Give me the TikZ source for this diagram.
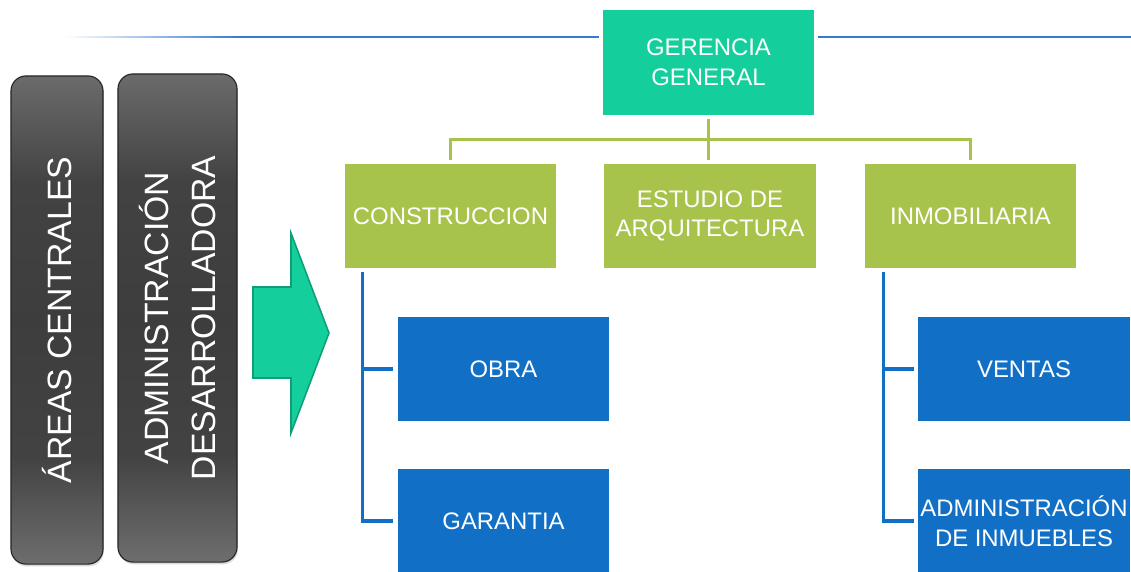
\documentclass[tikz,border=0pt]{standalone}
\usepackage{fontspec}
\setmainfont{Liberation Sans}
\usetikzlibrary{calc,shadows}
\definecolor{ggteal}{RGB}{20,207,155}
\definecolor{arrowedge}{RGB}{16,158,120}
\definecolor{areagreen}{RGB}{168,195,75}
\definecolor{unitblue}{RGB}{17,112,198}
\definecolor{lineblue}{RGB}{52,122,208}
\pgfdeclareverticalshading{sidebar}{100bp}{rgb(0bp)=(0.43,0.43,0.43); rgb(25bp)=(0.43,0.43,0.43); rgb(36bp)=(0.26,0.26,0.26); rgb(50bp)=(0.24,0.24,0.24); rgb(64bp)=(0.26,0.26,0.26); rgb(75bp)=(0.42,0.42,0.42); rgb(100bp)=(0.42,0.42,0.42)}

\begin{document}
\begin{tikzpicture}[x=0.025cm,y=-0.025cm,
		unit/.style={minimum width=5.28cm,minimum height=2.6cm,inner sep=0pt,align=center,text=white,font=\fontsize{17}{21}\selectfont},
		sidebox/.style={rounded corners=0.375cm,draw=black!85,line width=0.8pt,shading=sidebar,minimum height=12.2cm,drop shadow={shadow xshift=0.6pt,shadow yshift=-1.6pt,opacity=0.3}},
		sidetext/.style={rotate=90,align=center,text=white,inner sep=0pt,font=\fontsize{24}{34}\selectfont},
		greenline/.style={draw=areagreen,line width=2.3pt},
		blueline/.style={draw=unitblue,line width=2.3pt},
		topline/.style={draw=lineblue,line width=1.5pt}]
	\useasboundingbox (0,0) rectangle (1131,572);
	\node[unit,fill=ggteal] (gg) at (708.5,62.5) {GERENCIA\\GENERAL};
	\node[unit,fill=areagreen] (cons) at (450.5,216) {CONSTRUCCION};
	\node[unit,fill=areagreen] (est) at (710,216) {ESTUDIO DE\\ARQUITECTURA};
	\node[unit,fill=areagreen] (inm) at (970.5,216) {INMOBILIARIA};
	\node[unit,fill=unitblue] (obra) at (503.5,369) {OBRA};
	\node[unit,fill=unitblue] (gar) at (503.5,521) {GARANTIA};
	\node[unit,fill=unitblue] (vent) at (1024,369) {VENTAS};
	\node[unit,fill=unitblue] (adm) at (1024,521) {ADMINISTRACIÓN\\DE INMUEBLES};
	\node[sidebox,minimum width=2.3cm] (areas) at (57,320) {};
	\node[sidetext] at (areas) {ÁREAS CENTRALES};
	\node[sidebox,minimum width=2.975cm] (desa) at (177.5,318) {};
	\node[sidetext] at (desa) {ADMINISTRACIÓN\\DESARROLLADORA};
	\draw[arrowedge,fill=ggteal,line width=1.1pt] (253,287)--(291,287)--(291,233)--(329,333)--(291,433)--(291,378)--(253,378)--cycle;
	\coordinate (tl) at (240,37);
	\shade[left color=white,right color=lineblue] (65,36.2) rectangle (tl|-0,37.8);
	\draw[topline,shorten >=0.09cm] (tl) -- (tl-|gg.west);
	\draw[topline,shorten <=0.1cm] (tl-|gg.east) -- (1131,37);
	\coordinate (bus) at ($(gg.south)!0.5!(est.north)$);
	\draw[greenline,shorten <=0.1cm,shorten >=0.1cm] (gg.south) -- (gg.south|-est.north);
	\draw[greenline,shorten <=0.1cm,shorten >=0.1cm] (cons.north) |- (bus) -| (inm.north);
	\coordinate (cspine) at ($(cons.south west)+(18,0)$);
	\coordinate (ispine) at ($(inm.south west)+(19,0)$);
	\draw[blueline,shorten <=0.1cm,shorten >=0.125cm] (cspine) |- (gar.west);
	\draw[blueline,shorten >=0.125cm] (cspine|-obra.west) -- (obra.west);
	\draw[blueline,shorten <=0.1cm,shorten >=0.1cm] (ispine) |- (adm.west);
	\draw[blueline,shorten >=0.1cm] (ispine|-vent.west) -- (vent.west);
\end{tikzpicture}
\end{document}
